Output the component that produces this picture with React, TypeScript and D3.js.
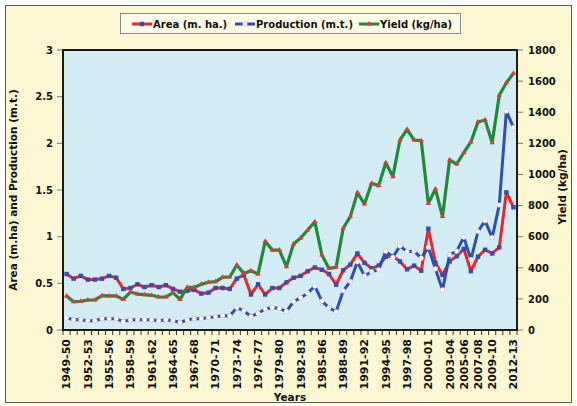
import React from "react";
import * as d3 from "d3";

const years = [
  "1949-50", "1950-51", "1951-52", "1952-53", "1953-54", "1954-55", "1955-56", "1956-57",
  "1957-58", "1958-59", "1959-60", "1960-61", "1961-62", "1962-63", "1963-64", "1964-65",
  "1965-66", "1966-67", "1967-68", "1968-69", "1969-70", "1970-71", "1971-72", "1972-73",
  "1973-74", "1974-75", "1975-76", "1976-77", "1977-78", "1978-79", "1979-80", "1980-81",
  "1981-82", "1982-83", "1983-84", "1984-85", "1985-86", "1986-87", "1987-88", "1988-89",
  "1989-90", "1990-91", "1991-92", "1992-93", "1993-94", "1994-95", "1995-96", "1996-97",
  "1997-98", "1998-99", "1999-00", "2000-01", "2001-02", "2002-03", "2003-04", "2004-05",
  "2005-06", "2006-07", "2007-08", "2008-09", "2009-10", "2010-11", "2011-12", "2012-13",
];

const shownLabels = [
  "1949-50", "1952-53", "1955-56", "1958-59", "1961-62", "1964-65", "1967-68", "1970-71",
  "1973-74", "1976-77", "1979-80", "1982-83", "1985-86", "1988-89", "1991-92", "1994-95",
  "1997-98", "2000-01", "2003-04", "2005-06", "2007-08", "2009-10", "2012-13",
];

// m. ha
const area = [
  0.6, 0.55, 0.58, 0.54, 0.54, 0.55, 0.58, 0.56, 0.44, 0.45, 0.49, 0.46, 0.48, 0.46, 0.48, 0.44,
  0.41, 0.42, 0.43, 0.39, 0.4, 0.45, 0.45, 0.44, 0.55, 0.59, 0.38, 0.49, 0.38, 0.45, 0.45, 0.51,
  0.56, 0.58, 0.63, 0.67, 0.645, 0.6, 0.485, 0.64, 0.7, 0.82, 0.72, 0.66, 0.69, 0.785, 0.79, 0.735,
  0.65, 0.69, 0.635, 1.085, 0.72, 0.59, 0.735, 0.79, 0.87, 0.63, 0.785, 0.86, 0.82, 0.885, 1.475, 1.315,
];

// m.t.
const production = [
  0.13, 0.11, 0.11, 0.1, 0.1, 0.12, 0.12, 0.12, 0.09, 0.11, 0.11, 0.11, 0.11, 0.1, 0.11, 0.1,
  0.08, 0.11, 0.12, 0.12, 0.135, 0.14, 0.155, 0.15, 0.24, 0.205, 0.145, 0.18, 0.225, 0.24, 0.23, 0.2,
  0.305, 0.345, 0.395, 0.47, 0.31, 0.24, 0.195, 0.42, 0.52, 0.73, 0.58, 0.625, 0.645, 0.845, 0.78, 0.9,
  0.84, 0.845, 0.77, 0.885, 0.655, 0.43, 0.805, 0.845, 0.995, 0.755, 1.055, 1.17, 0.99, 1.34, 2.345, 2.17,
];

// kg/ha
const yieldKg = [
  219, 182, 184, 193, 193, 221, 219, 219, 197, 244, 231, 227, 223, 212, 212, 240,
  197, 274, 274, 294, 307, 311, 339, 341, 418, 364, 381, 360, 570, 514, 514, 407,
  553, 592, 643, 696, 482, 396, 403, 654, 729, 883, 810, 943, 928, 1075, 986, 1221,
  1290, 1221, 1217, 814, 906, 729, 1093, 1067, 1140, 1209, 1337, 1350, 1204, 1509, 1590, 1650,
];

const leftTicks = [0, 0.5, 1, 1.5, 2, 2.5, 3];
const rightTicks = [0, 200, 400, 600, 800, 1000, 1200, 1400, 1600, 1800];

const RED = "#e8262b";
const BLUE = "#2f4fb4";
const GREEN = "#1f8a3a";
const FONT = "'DejaVu Sans', Verdana, sans-serif";

export default function App() {
  const W = 577;
  const H = 406;
  const plot = { left: 63, right: 517, top: 50, bottom: 330 };

  const x = d3.scalePoint<string>().domain(years).range([plot.left, plot.right]).padding(0.5);
  const yL = d3.scaleLinear().domain([0, 3]).range([plot.bottom, plot.top]);
  const yR = d3.scaleLinear().domain([0, 1800]).range([plot.bottom, plot.top]);
  const step = x.step();

  const lineL = d3
    .line<number>()
    .x((_, i) => x(years[i]) as number)
    .y((d) => yL(d));
  const lineR = d3
    .line<number>()
    .x((_, i) => x(years[i]) as number)
    .y((d) => yR(d));

  const tri = d3.symbol().type(d3.symbolTriangle).size(12)() as string;

  // category boundaries for x ticks
  const bounds = d3.range(years.length + 1).map((i) => (x(years[0]) as number) - step / 2 + i * step);

  const legendItems = [
    { label: "Area (m. ha.)", color: RED, kind: "sq", lx: 132, tx: 153 },
    { label: "Production (m.t.)", color: BLUE, kind: "ci", lx: 235, tx: 256 },
    { label: "Yield (kg/ha)", color: GREEN, kind: "tr", lx: 359, tx: 380 },
  ];

  const marker = (kind: string, cx: number, cy: number, key: any) => {
    if (kind === "sq") return <rect key={key} x={cx - 2.2} y={cy - 2.2} width={4.4} height={4.4} fill={BLUE} />;
    if (kind === "ci")
      return <circle key={key} cx={cx} cy={cy} r={2.3} fill="#ffffff" stroke="#d9b3cf" strokeWidth={0.6} />;
    return <path key={key} d={tri} transform={`translate(${cx},${cy})`} fill="#ee3333" />;
  };

  return (
    <svg
      width={W}
      height={H}
      style={{ position: "absolute", left: 0, top: 0, fontFamily: FONT }}
    >
      <rect x={0} y={0} width={W} height={H} fill="#ffffff" />
      <rect x={5.5} y={5.5} width={566} height={397} fill="#fef8d2" stroke="#5a5a5a" strokeWidth={1} />

      {/* legend */}
      <rect x={120.5} y={13.5} width={340} height={20} fill="#fffbe6" stroke="#8a8a8a" strokeWidth={1} />
      {legendItems.map((it) => (
        <g key={it.label}>
          <line x1={it.lx} x2={it.lx + 20} y1={24} y2={24} stroke={it.color} strokeWidth={3} />
          {marker(it.kind, it.lx + 10, 24, "m")}
          <text x={it.tx} y={27.5} fontSize={10} fontWeight="bold" fill="#111">
            {it.label}
          </text>
        </g>
      ))}

      {/* plot area */}
      <rect
        x={plot.left}
        y={plot.top}
        width={plot.right - plot.left}
        height={plot.bottom - plot.top}
        fill="#d4edf4"
      />

      {/* left axis */}
      {leftTicks.map((t) => (
        <g key={"l" + t}>
          <line x1={plot.left - 6} x2={plot.left} y1={yL(t)} y2={yL(t)} stroke="#777" strokeWidth={1} />
          <text x={plot.left - 10} y={yL(t) + 3.8} textAnchor="end" fontSize={10} fontWeight="bold" fill="#111">
            {t}
          </text>
        </g>
      ))}

      {/* right axis */}
      {rightTicks.map((t) => (
        <g key={"r" + t}>
          <line x1={plot.right} x2={plot.right + 6} y1={yR(t)} y2={yR(t)} stroke="#777" strokeWidth={1} />
          <text x={plot.right + 11} y={yR(t) + 3.8} textAnchor="start" fontSize={10} fontWeight="bold" fill="#111">
            {t}
          </text>
        </g>
      ))}

      {/* x ticks */}
      {bounds.map((bx, i) => (
        <line key={"xt" + i} x1={bx} x2={bx} y1={plot.bottom} y2={plot.bottom + 5} stroke="#333" strokeWidth={1} />
      ))}
      {shownLabels.map((lab) => (
        <text
          key={lab}
          transform={`translate(${(x(lab) as number) + 3.9},${plot.bottom + 9}) rotate(-90)`}
          textAnchor="end"
          fontSize={11}
          fontWeight="bold"
          fill="#111"
        >
          {lab}
        </text>
      ))}

      {/* series */}
      <path d={lineL(area) as string} fill="none" stroke={RED} strokeWidth={3} strokeLinejoin="round" />
      {area.map((v, i) => marker("sq", x(years[i]) as number, yL(v), "a" + i))}

      <path d={lineL(production) as string} fill="none" stroke={BLUE} strokeWidth={3} strokeLinejoin="round" />
      {production.map((v, i) => marker("ci", x(years[i]) as number, yL(v), "p" + i))}

      <path d={lineR(yieldKg) as string} fill="none" stroke={GREEN} strokeWidth={3.2} strokeLinejoin="round" />
      {yieldKg.map((v, i) => marker("tr", x(years[i]) as number, yR(v), "y" + i))}

      {/* plot border */}
      <rect
        x={plot.left}
        y={plot.top}
        width={plot.right - plot.left}
        height={plot.bottom - plot.top}
        fill="none"
        stroke="#1a1a1a"
        strokeWidth={2}
      />

      {/* axis titles */}
      <text
        transform={`translate(17,${(plot.top + plot.bottom) / 2}) rotate(-90)`}
        textAnchor="middle"
        fontSize={10.5}
        fontWeight="bold"
        fill="#111"
      >
        Area (m.ha) and Production (m.t.)
      </text>
      <text
        transform={`translate(566,${(plot.top + plot.bottom) / 2 - 3}) rotate(-90)`}
        textAnchor="middle"
        fontSize={10.5}
        fontWeight="bold"
        fill="#111"
      >
        Yield (kg/ha)
      </text>
      <text x={(plot.left + plot.right) / 2} y={401} textAnchor="middle" fontSize={10.5} fontWeight="bold" fill="#111">
        Years
      </text>
    </svg>
  );
}
